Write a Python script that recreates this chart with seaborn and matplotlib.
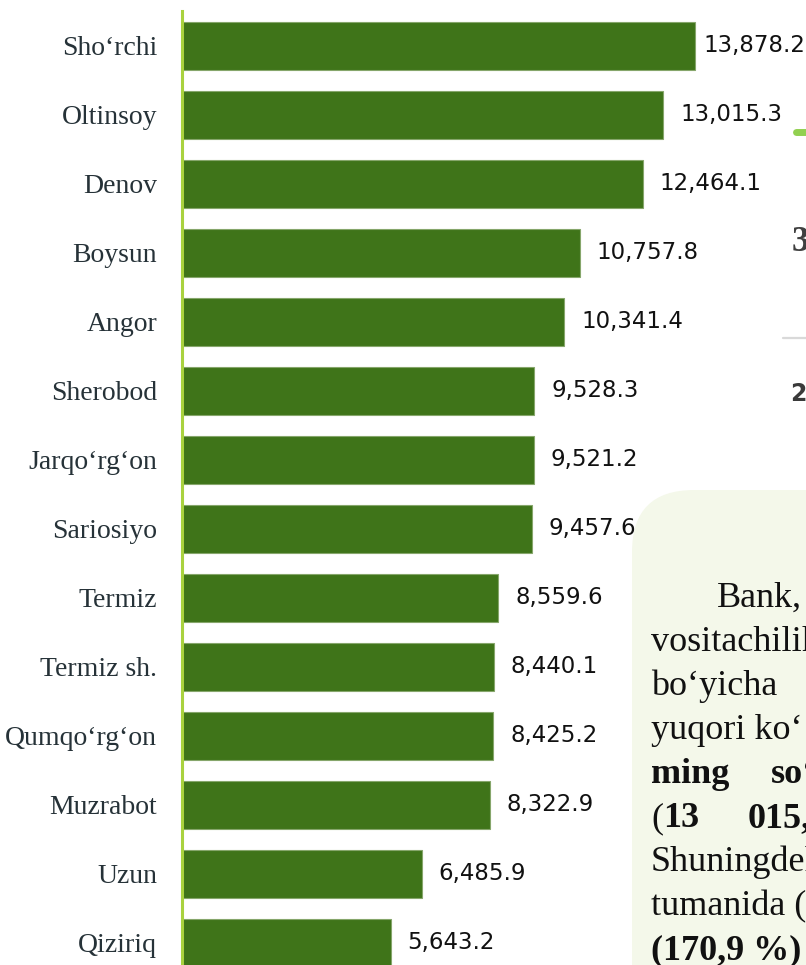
import matplotlib
matplotlib.use("Agg")
import matplotlib.pyplot as plt
import seaborn as sns
import pandas as pd
from matplotlib.patches import FancyBboxPatch
from matplotlib.lines import Line2D
from matplotlib.transforms import IdentityTransform

# --- データ ---
districts = ["Sho‘rchi", "Oltinsoy", "Denov", "Boysun", "Angor", "Sherobod",
             "Jarqo‘rg‘on", "Sariosiyo", "Termiz", "Termiz sh.", "Qumqo‘rg‘on",
             "Muzrabot", "Uzun", "Qiziriq"]
values = [13878.2, 13015.3, 12464.1, 10757.8, 10341.4, 9528.3, 9521.2,
          9457.6, 8559.6, 8440.1, 8425.2, 8322.9, 6485.9, 5643.2]

df = pd.DataFrame({"district": districts, "value": values})

W, H = 806, 965
sns.set_style("white")

fig = plt.figure(figsize=(W / 100, H / 100), dpi=100)
ax = fig.add_axes([182 / W, 0, 624 / W, 954 / H])
ax.patch.set_visible(False)

sns.barplot(data=df, x="value", y="district", color="#3f7419", saturation=1,
            width=0.7, edgecolor="#86a66b", linewidth=0.8, orient="h", ax=ax)

ax.set_xlim(0, 16880)
ax.set_ylim(13.32, -0.507)
for s in ["top", "right", "bottom"]:
    ax.spines[s].set_visible(False)
ax.spines["left"].set_color("#a9d23f")
ax.spines["left"].set_linewidth(2.2)
ax.set_xticks([])
ax.set_xlabel("")
ax.set_ylabel("")
ax.tick_params(axis="y", length=0, pad=18, labelsize=20, labelcolor="#263238")
for lab in ax.get_yticklabels():
    lab.set_fontfamily("Liberation Serif")

# 値ラベル
labels = []
for i, v in enumerate(values):
    t = ax.annotate(f"{v:,.1f}", xy=(v, i), xytext=(12.2, 0), textcoords="offset points",
                    ha="left", va="center", fontsize=16.5, color="#111111",
                    family="DejaVu Sans")
    labels.append(t)

# はみ出すラベルは内側に寄せる
fig.canvas.draw()
renderer = fig.canvas.get_renderer()
for t in labels:
    bb = t.get_window_extent(renderer)
    if bb.x1 > W:
        t.xyann = (12.2 - (bb.x1 - W + 1) * 72 / 100, 0)

# --- 右側のテキストボックス (一部のみ見えている) ---
box = FancyBboxPatch((632, -300), 700, (H - 490) + 300,
                     boxstyle="round,pad=0,rounding_size=62",
                     transform=IdentityTransform(), facecolor="#f4f8ea",
                     edgecolor="none", zorder=-1)
fig.add_artist(box)


def px_text(x, y, s, bold=False, size=26, family="Liberation Serif", color="#111111"):
    fig.text(x / W, 1 - y / H, s, fontsize=size, family=family, color=color,
             fontweight="bold" if bold else "normal", va="baseline", ha="left")


base = 607
step = 44
px_text(717, base, "Bank,")
px_text(651, base + step, "vositachilik")
px_text(651, base + 2 * step, "bo‘yicha")
px_text(651, base + 3 * step, "yuqori ko‘")
px_text(651, base + 4 * step, "ming", bold=True)
px_text(771, base + 4 * step, "so‘", bold=True)
px_text(651, base + 5 * step, "(")
px_text(663, base + 5 * step, "13", bold=True)
px_text(748, base + 5 * step, "015,", bold=True)
px_text(651, base + 6 * step, "Shuningdek")
px_text(651, base + 7 * step, "tumanida (")
px_text(651, base + 8 * step, "(170,9 %)", bold=True)

# 右端の他の要素の断片
fig.add_artist(Line2D([796 / W, 815 / W], [1 - 132 / H] * 2, color="#92d050",
                      lw=5, solid_capstyle="round"))
fig.add_artist(Line2D([783 / W, 810 / W], [1 - 338 / H] * 2, color="#d9d9d9", lw=1.6))
px_text(792, 251, "3", bold=True, size=25, color="#404040")
px_text(790, 401, "2", bold=True, size=17, family="DejaVu Sans", color="#3a3a3a")

fig.savefig("out.png", dpi=100)
